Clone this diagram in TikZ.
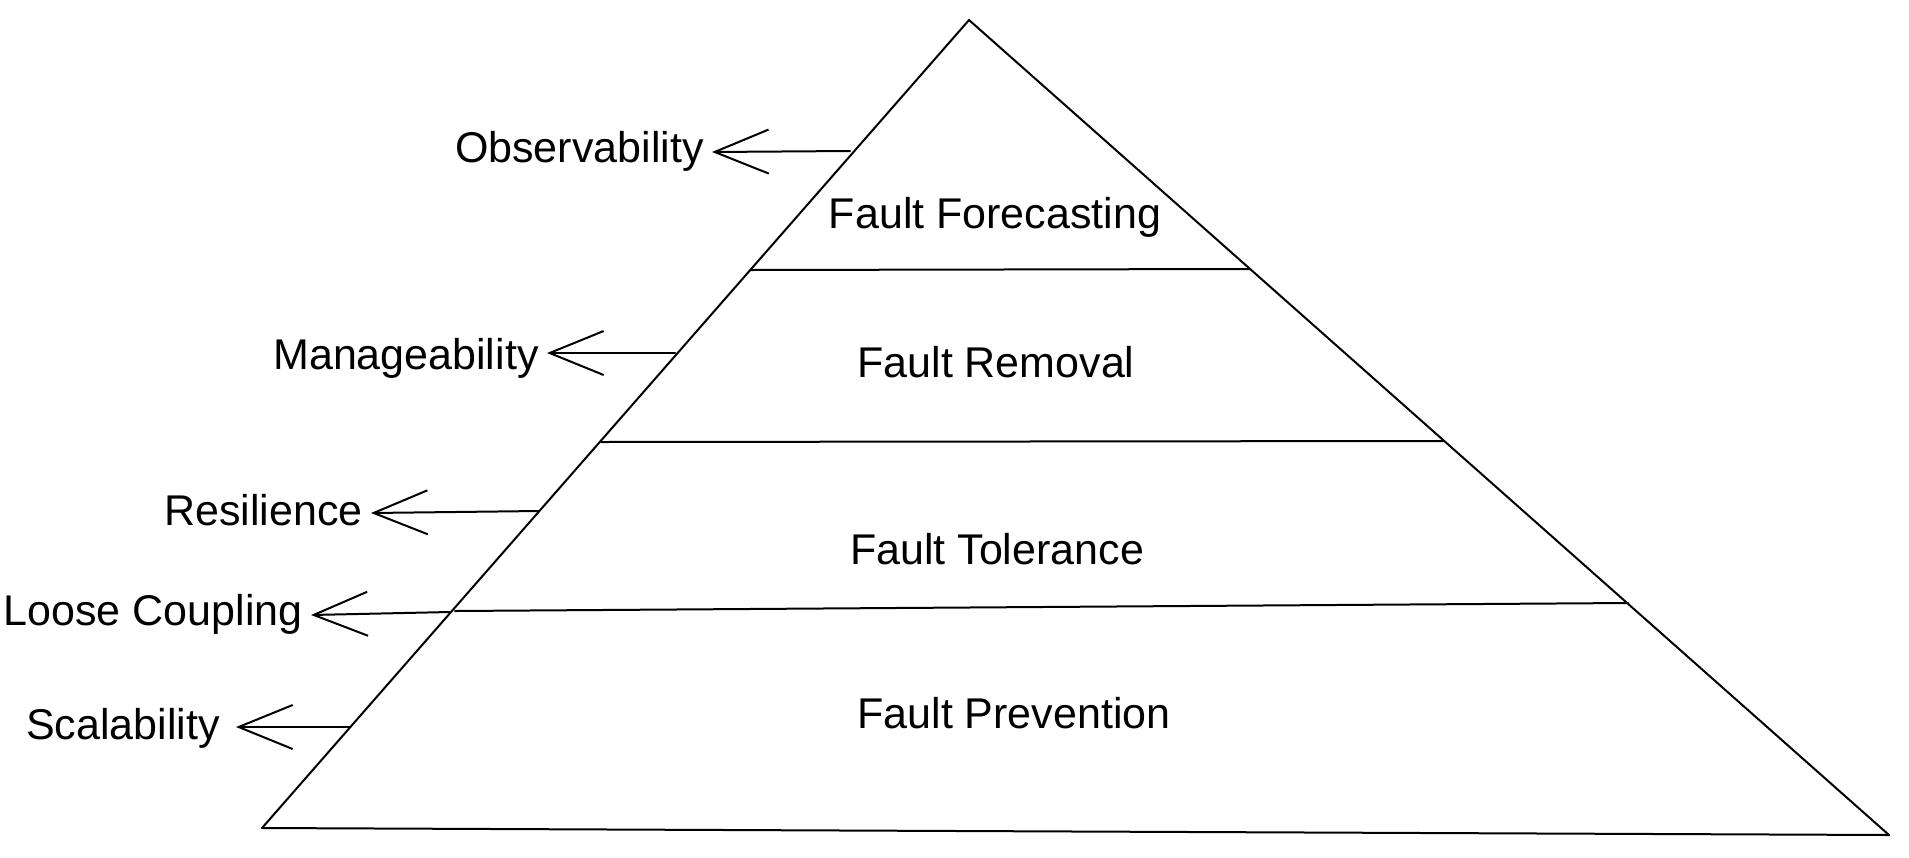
\documentclass[tikz,border=0pt]{standalone}
\usepackage{fontspec}
\setmainfont{Liberation Sans}
\usetikzlibrary{arrows.meta}
\begin{document}
\begin{tikzpicture}[x=0.5pt,y=-0.5pt,
  edge/.style={line width=1pt,line cap=round,line join=round,black},
  lbl/.style={font=\fontsize{21.5}{26}\selectfont,text height=16pt,text depth=4pt,inner xsep=4pt,inner ysep=0pt},
  lblhi/.style={lbl,text height=15pt,text depth=5pt},
  lbllo/.style={lbl,text height=18pt,text depth=2pt},
  layer/.style={font=\fontsize{21.5}{26}\selectfont,inner sep=0pt},
  arr/.style={line width=1pt,line cap=round,-{Straight Barb[length=27pt,width=22pt,line width=1pt]}}]
\useasboundingbox[fill=white] (0,0) rectangle (1909,857);
% pyramid corners
\coordinate (A) at (969,20);
\coordinate (BL) at (262,828);
\coordinate (BR) at (1889,835);
\draw[edge] (BL) -- (A) -- (BR) -- cycle;
% layer dividers
\coordinate (l1a) at (751,270); \coordinate (l1b) at (1250,269);
\coordinate (l2a) at (601,442); \coordinate (l2b) at (1443,441);
\coordinate (l3a) at (455,611); \coordinate (l3b) at (1628,603);
\draw[edge] (l1a) -- (l1b);
\draw[edge] (l2a) -- (l2b);
\draw[edge] (l3a) -- (l3b);
% layer labels
\node[layer,anchor=base] (ff) at (995,228) {Fault Forecasting};
\node[layer,anchor=base] (fr) at (996,377) {Fault Removal};
\node[layer,anchor=base] (ft) at (997,564) {Fault Tolerance};
\node[layer,anchor=base] (fp) at (1014,728) {Fault Prevention};
% side labels
\node[lblhi,anchor=east] (obs) at (712,152) {Observability};
\node[lbllo,anchor=east] (man) at (547,353) {Manageability};
\node[lbl,anchor=east] (res) at (371,513) {Resilience};
\node[lblhi,anchor=east] (lc) at (311,615) {Loose Coupling};
\node[lbl,anchor=east,inner xsep=8pt] (sc) at (236,727) {Scalability};
% arrow origins on the pyramid edge
\coordinate (pobs) at (850,151);
\coordinate (pman) at (675,353);
\coordinate (pres) at (539,511);
\coordinate (plc) at (450,612);
\coordinate (psc) at (350,727);
\draw[arr] (pobs) -- (obs.east);
\draw[arr] (pman) -- (man.east);
\draw[arr] (pres) -- (res.east);
\draw[arr] (plc) -- (lc.east);
\draw[arr] (psc) -- (sc.east);
\end{tikzpicture}
\end{document}
